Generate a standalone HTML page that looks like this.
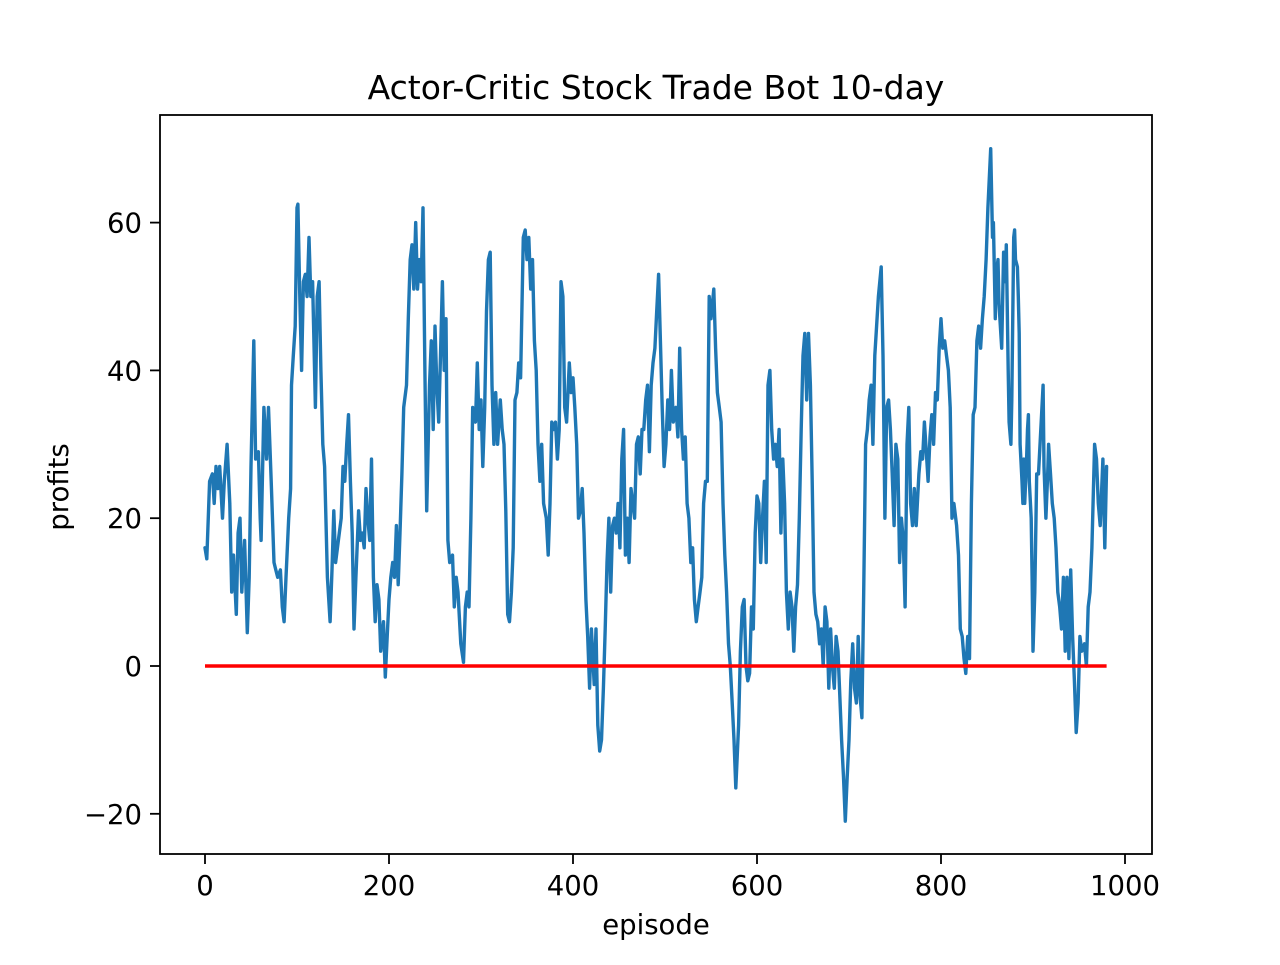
<!DOCTYPE html>
<html><head><meta charset="utf-8"><style>
html,body{margin:0;padding:0;background:#fff}
svg text{font-family:"DejaVu Sans","Liberation Sans",sans-serif;fill:#000}
</style></head><body>
<svg id="chart" width="1280" height="960" viewBox="0 0 1280 960" xmlns="http://www.w3.org/2000/svg">
<rect width="1280" height="960" fill="#fff"/>
<text x="656" y="99" font-size="33" text-anchor="middle">Actor-Critic Stock Trade Bot 10-day</text>
<g id="marks"></g>
<rect x="160" y="115" width="992" height="739" fill="none" stroke="#000" stroke-width="1.8"/>
<g id="xt"></g><g id="yt"></g>
<text x="656" y="934" font-size="27.5" text-anchor="middle">episode</text>
<text transform="translate(68,487) rotate(-90)" font-size="27.5" text-anchor="middle">profits</text>
</svg>
<script>
const xTicks=[0,200,400,600,800,1000];
const yTicks=[-20,0,20,40,60];
const baseline=[0,0];
const episodes=[0,2,5,8,10,12,14,16,19,21,24,27,29,31,34,36,38,40,43,46,48,50,53,55,58,60,61,64,67,69,72,75,77,79,82,84,86,88,91,93,94,96,98,100,
101,103,105,107,109,111,113,115,117,120,122,124,126,128,130,133,136,138,140,142,146,148,150,152,154,156,158,160,162,164,167,169,171,173,175,177,179,181,183,185,187,189,191,194,196,198,200,202,204,206,208,210,212,214,216,219,221,223,225,227,229,231,233,235,237,239,241,244,246,248,250,252,254,256,258,260,262,264,266,269,271,273,275,278,281,283,285,287,289,291,294,296,298,300,302,304,306,308,310,312,314,316,318,321,323,325,327,329,331,333,335,337,339,341,343,346,348,350,352,354,356,358,360,362,364,366,368,371,373,375,377,379,381,383,385,387,389,391,393,396,398,400,402,404,406,408,410,412,414,416,418,420,423,425,427,429,
431,433,435,437,439,441,443,445,447,449,451,453,455,457,459,461,463,465,467,469,471,473,475,477,479,481,483,485,487,489,491,493,495,497,499,501,503,505,507,509,512,514,516,518,520,522,524,526,528,530,532,534,536,538,540,542,544,546,548,550,553,555,557,559,561,563,565,567,569,571,573,575,577,
580,582,584,586,588,590,592,594,596,598,600,602,604,606,608,610,612,614,616,618,620,622,624,626,628,630,632,634,636,638,640,642,644,646,648,650,652,654,656,658,660,662,664,666,668,670,672,674,676,678,680,682,684,686,688,690,692,694,696,
698,700,702,704,706,708,710,712,714,716,718,720,722,724,726,728,730,732,735,737,739,741,743,745,747,749,751,753,755,757,759,761,763,765,767,769,771,773,776,778,780,782,784,786,788,790,792,794,796,798,800,802,804,806,808,810,812,814,817,819,821,823,825,827,829,831,833,835,837,839,841,843,845,847,849,851,854,
856,857,859,860,862,863,865,866,868,870,871,873,874,876,877,879,880,881,883,884,885,886,888,889,890,891,893,894,895,896,898,899,900,902,904,906,911,912,914,916,917,919,921,923,925,927,929,931,933,935,937,939,941,943,945,947,949,951,953,956,958,960,962,964,967,969,971,973,976,978,980];
const profits=[16,14.5,25,26,22,27,24,27,20,25,30,22,10,15,7,18,20,10,17,4.5,12,27,44,28,29,20,17,35,28,35,25,14,13,12,13,8,6,12,20,24,38,42,46,62,
62.5,50,40,52,53,50,58,50,52,35,50,52,40,30,27,12,6,13,21,14,18,20,27,25,30,34,25,18,5,12,21,17,18,16,24,20,17,28,12,6,11,9,2,6,-1.5,4,9,12,14,12,19,11,18,26,35,38,47,55,57,51,60,51,55,52,62,40,21,38,44,32,46,38,33,42,52,40,47,17,14,15,8,12,10,3,0.5,8,10,8,20,35,33,41,32,36,27,35,48,55,56,38,30,37,30,36,32,30,21,7,6,10,16,36,37,41,39,58,59,55,58,51,55,44,40,30,25,30,22,20,15,22,33,32,33,28,32,52,50,35,33,41,37,39,35,30,20,21,24,18,9,4,-3,5,-2.5,5,-8,-11.5,
-10,-3,5,14,20,10,19,20,18,22,16,28,32,15,20,14,24,22,20,30,31,26,32,32,36,38,29,38,41,43,48,53,44,35,27,30,36,32,40,33,35,31,43,32,28,31,22,20,14,16,9,6,8,10,12,22,25,25,50,47,51,43,37,35,33,22,15,10,3,0,-5,-10,-16.5,
-8,2,8,9,0,-2,-1,8,5,18,23,22,14,20,25,14,38,40,32,28,30,27,32,18,28,22,10,5,10,8,2,8,11,20,32,42,45,36,45,38,25,10,7,6,3,5,0,8,6,-3,5,0,-3,4,2,-4,-10,-15,-21,
-15,-10,-2,3,-3,-5,4,-4,-7,10,30,32,36,38,30,42,46,50,54,42,20,35,36,32,26,19,30,28,14,20,17,8,30,35,22,19,24,19,26,29,28,33,29,25,31,34,30,37,36,43,47,43,44,42,40,35,20,22,19,15,5,4,1,-1,4,1,22,34,35,44,46,43,47,50,55,62,70,
58,60,47,53,55,49,45,43,56,52,57,40,33,30,36,58,59,55,54,50,45,30,25,22,28,22,28,32,34,25,20,12,2,10,26,26,38,27,20,26,30,26,22,20,16,10,8,5,12,2,12,1,13,4,-2,-9,-5,4,2,3,0,8,10,16,30,28,22,19,28,16,27];

const NS='http://www.w3.org/2000/svg';
function xScale(e){return 205+e*0.92;}
function yScale(v){return 666-v*7.39;}
const marks=document.getElementById('marks');
let d='';
for(let i=0;i<episodes.length;i++){d+=(i?'L':'M')+xScale(episodes[i]).toFixed(1)+','+yScale(profits[i]).toFixed(1);}
const line=document.createElementNS(NS,'path');
line.setAttribute('d',d);line.setAttribute('fill','none');line.setAttribute('stroke','#1f77b4');
line.setAttribute('stroke-width','3.4');line.setAttribute('stroke-linejoin','round');line.setAttribute('stroke-linecap','round');


marks.appendChild(line);
const zero=document.createElementNS(NS,'line');
zero.setAttribute('x1',xScale(episodes[0]));zero.setAttribute('x2',xScale(episodes[episodes.length-1]));
zero.setAttribute('y1',yScale(baseline[0]));zero.setAttribute('y2',yScale(baseline[1]));
zero.setAttribute('stroke','#ff0000');zero.setAttribute('stroke-width','3.4');


marks.appendChild(zero);
const xt=document.getElementById('xt');
xTicks.forEach(t=>{
  const x=xScale(t);
  const l=document.createElementNS(NS,'line');
  l.setAttribute('x1',x);l.setAttribute('x2',x);l.setAttribute('y1',854);l.setAttribute('y2',864);l.setAttribute('stroke','#000');l.setAttribute('stroke-width','1.8');
  
  
  xt.appendChild(l);
  const tx=document.createElementNS(NS,'text');
  tx.setAttribute('x',x);tx.setAttribute('y',895);tx.setAttribute('font-size','27.5');tx.setAttribute('text-anchor','middle');
  tx.textContent=t;
  
  
  xt.appendChild(tx);
});
const yt=document.getElementById('yt');
yTicks.forEach(t=>{
  const y=yScale(t);
  const l=document.createElementNS(NS,'line');
  l.setAttribute('x1',150);l.setAttribute('x2',160);l.setAttribute('y1',y);l.setAttribute('y2',y);l.setAttribute('stroke','#000');l.setAttribute('stroke-width','1.8');
  
  
  yt.appendChild(l);
  const tx=document.createElementNS(NS,'text');
  tx.setAttribute('x',142);tx.setAttribute('y',y+10);tx.setAttribute('font-size','27.5');tx.setAttribute('text-anchor','end');
  tx.textContent=t<0?'\u2212'+Math.abs(t):String(t);
  
  
  yt.appendChild(tx);
});
</script>
</body></html>
